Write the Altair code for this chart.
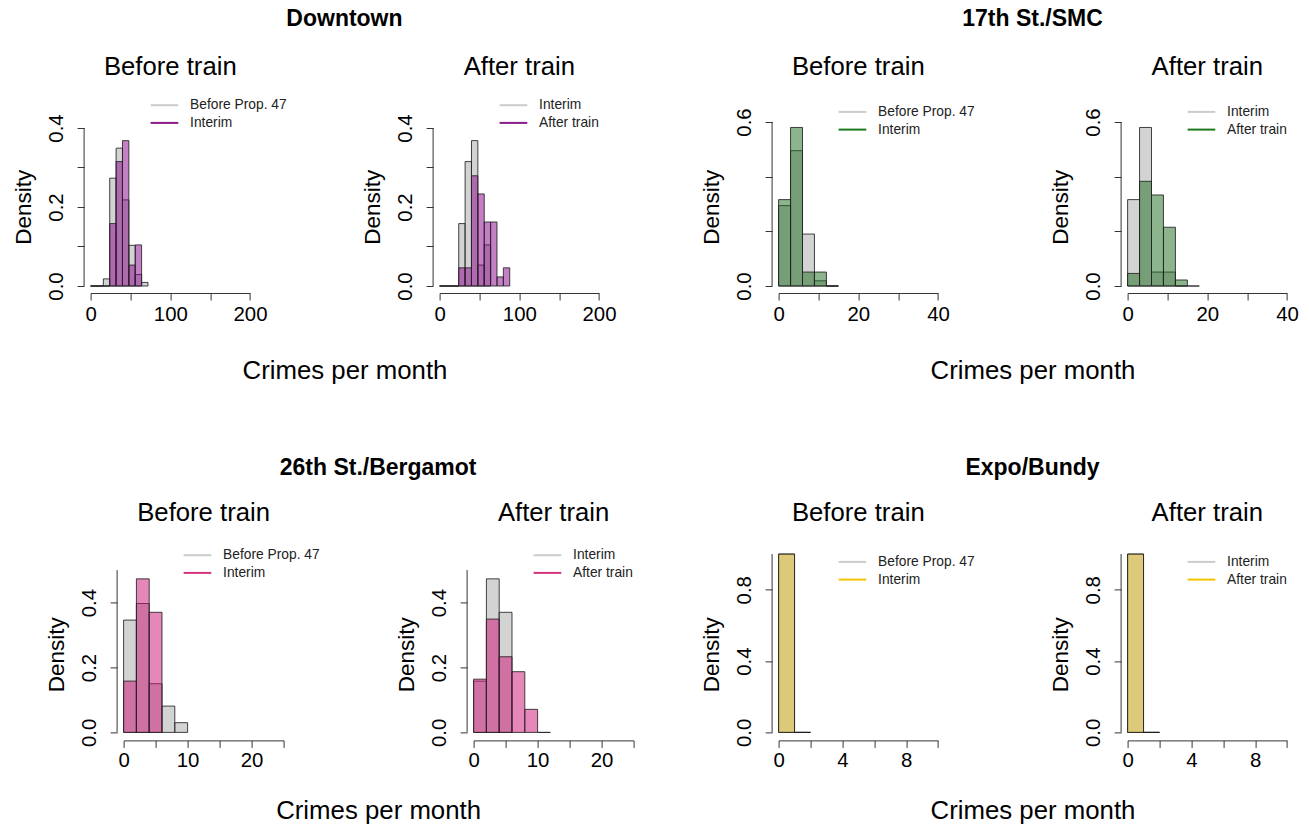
import json
import altair as alt
import pandas as pd

FONT = "Liberation Sans"

# ---------------- data ----------------
STATIONS = ["Downtown", "17th St./SMC", "26th St./Bergamot", "Expo/Bundy"]
PERIODS = ["Before train", "After train"]
SERIES = [["Before Prop. 47", "Interim"], ["Interim", "After train"]]
X_TITLE = "Crimes per month"
Y_TITLE = "Density"

BIN_WIDTH = [8, 3, 2, 1]

DOWNTOWN_BEFORE_PROP47 = [0, 0, 0.018, 0.273, 0.349, 0.218, 0.103, 0.029, 0.009]
DOWNTOWN_INTERIM = [0, 0, 0, 0.158, 0.315, 0.368, 0.053, 0.104]
DOWNTOWN_AFTER = [0, 0, 0, 0.046, 0.046, 0.279, 0.233, 0.162, 0.162, 0.023, 0.046]

SMC_BEFORE_PROP47 = [0.294, 0.495, 0.190, 0.019, 0]
SMC_INTERIM = [0.316, 0.580, 0.051, 0.051, 0]
SMC_AFTER = [0.046, 0.383, 0.333, 0.215, 0.022, 0]

BERGAMOT_BEFORE_PROP47 = [0.346, 0.397, 0.150, 0.081, 0.030]
BERGAMOT_INTERIM = [0.158, 0.473, 0.370]
BERGAMOT_AFTER = [0.164, 0.349, 0.233, 0.187, 0.071, 0]

EXPO_BEFORE_PROP47 = [1.0, 0]
EXPO_INTERIM = [1.0, 0]
EXPO_AFTER = [1.0, 0]

DENS = [
    [(DOWNTOWN_BEFORE_PROP47, DOWNTOWN_INTERIM), (DOWNTOWN_INTERIM, DOWNTOWN_AFTER)],
    [(SMC_BEFORE_PROP47, SMC_INTERIM), (SMC_INTERIM, SMC_AFTER)],
    [(BERGAMOT_BEFORE_PROP47, BERGAMOT_INTERIM), (BERGAMOT_INTERIM, BERGAMOT_AFTER)],
    [(EXPO_BEFORE_PROP47, EXPO_INTERIM), (EXPO_INTERIM, EXPO_AFTER)],
]

X_TICKS = [[0, 50, 100, 150, 200], [0, 10, 20, 30, 40], [0, 5, 10, 15, 20, 25], [0, 2, 4, 6, 8, 10]]
X_TICK_LABELS = [[0, 100, 200], [0, 20, 40], [0, 10, 20], [0, 4, 8]]
Y_TICKS = [[0, 0.1, 0.2, 0.3, 0.4], [0, 0.1, 0.2, 0.3, 0.4, 0.5, 0.6],
           [0, 0.1, 0.2, 0.3, 0.4, 0.5], [0, 0.2, 0.4, 0.6, 0.8, 1.0]]
Y_TICK_LABELS = [["0.0", "0.2", "0.4"], ["0.0", "0.3", "0.6"], ["0.0", "0.2", "0.4"], ["0.0", "0.4", "0.8"]]

# ---------------- style / layout ----------------
GREY_FILL = "#A8A8A8"
GREY_LINE = "#CCCCCC"
STATION_FILL = ["#8B008B", "#1C6B1C", "#CD1076", "#E7BF21"]
STATION_LINE = ["#8B1A89", "#1E7A1E", "#D6337F", "#F5C400"]
EDGE = "#222222"
AXC = "#333333"

LEG_X0, LEG_X1, LEG_TX, LEG_ROW = 60, 87.7, 99.5, 17.7
Y_AXIS_OFFSET = 6.5

# per station: plot size, top of the plotting region (data units), offsets relative to the plot
LAYOUT = [
    dict(w=159.4, h=168, ytop=0.4253, gap=188.9, xoff=7, xpad=14.6, xty=77.4, legy=-12.8,
         st_y=-98.6, pt_y=-50.6, dy=88.7),
    dict(w=159.4, h=168, ytop=0.6146, gap=189, xoff=7, xpad=14.6, xty=77.4, legy=-6.1,
         st_y=-98.6, pt_y=-50.6, dy=88.7),
    dict(w=160, h=180, ytop=0.5545, gap=189, xoff=8, xpad=13, xty=70, legy=2.8,
         st_y=-84, pt_y=-39, dy=101.8),
    dict(w=159.4, h=180, ytop=1.0095, gap=189, xoff=8, xpad=13, xty=70, legy=9.5,
         st_y=-84, pt_y=-39, dy=101.8),
]
# grid column widths (both rows share them); the panels draw past their cell where needed
COLS = [78.1, 32.6, 315.7, 33.3, 305, 348.4, 159.4]
ROW_SPACING = 266.4


def panel(i, j, cell_w):
    L = LAYOUT[i]
    grey_name, col_name = SERIES[j]
    grey_vals, col_vals = DENS[i][j]
    bw = BIN_WIDTH[i]
    rows = []
    for name, vals in ((grey_name, grey_vals), (col_name, col_vals)):
        for k, v in enumerate(vals):
            rows.append({"series": name, "start": k * bw, "end": (k + 1) * bw, "density": v})
    df = pd.DataFrame(rows)

    xa = dict(values=X_TICKS[i], format="d",
              labelExpr="indexof(%s, datum.value) >= 0 ? datum.label : ''" % json.dumps(X_TICK_LABELS[i]),
              tickSize=7, offset=L["xoff"], labelPadding=L["xpad"], labelFontSize=20.4, labelFont=FONT,
              labelColor="#000", labelBaseline="middle", labelFlush=False, labelOverlap=False,
              domainColor=AXC, tickColor=AXC, grid=False)
    if j == 0:
        xa.update(title=X_TITLE, titleFontSize=25.8, titleFont=FONT, titleFontWeight="normal",
                  titleColor="#000", titleX=L["w"] + L["gap"] / 2, titleY=L["xty"],
                  titleAlign="center", titleBaseline="middle")
    else:
        xa.update(title=None)
    ya = dict(values=Y_TICKS[i], format=".1f",
              labelExpr="indexof(%s, datum.label) >= 0 ? datum.label : ''" % json.dumps(Y_TICK_LABELS[i]),
              tickSize=7, offset=Y_AXIS_OFFSET, labelPadding=10.9, labelFontSize=20.4, labelFont=FONT,
              labelColor="#000", labelAngle=270, labelAlign="center", labelBaseline="bottom",
              labelOverlap=False, labelFlush=False, domain=False, tickColor=AXC, grid=False,
              title=Y_TITLE, titleFontSize=22.5, titleFont=FONT, titleFontWeight="normal", titleColor="#000",
              titleAngle=270, titleX=-48.6, titleY=L["dy"], titleAlign="center", titleBaseline="bottom")

    xscale = alt.Scale(domain=[X_TICKS[i][0], X_TICKS[i][-1]], range=[0, L["w"]], nice=False, zero=False)
    yscale = alt.Scale(domain=[0, L["ytop"]], nice=False)

    bars = alt.Chart(df).mark_bar(stroke=EDGE, strokeWidth=1, strokeOpacity=0.85, fillOpacity=0.5).encode(
        x=alt.X("start:Q", scale=xscale, axis=alt.Axis(**xa)),
        x2="end:Q",
        y=alt.Y("density:Q", scale=yscale, axis=alt.Axis(**ya), stack=None),
        y2=alt.datum(0),
        fill=alt.Fill("series:N", scale=alt.Scale(domain=[grey_name, col_name],
                                                  range=[GREY_FILL, STATION_FILL[i]]), legend=None),
    )

    # y axis line spanning only the ticked range (as R draws it)
    axis_line = alt.Chart(pd.DataFrame({"a": [0]})).mark_rule(color=AXC, strokeWidth=1).encode(
        x=alt.value(-Y_AXIS_OFFSET), y=alt.datum(Y_TICKS[i][0]), y2=alt.datum(Y_TICKS[i][-1]))

    # legend (line + label per series)
    leg_df = pd.DataFrame({"series": [grey_name, col_name], "row": [0, 1]})
    leg_base = alt.Chart(leg_df).transform_calculate(
        ypix="%s + datum.row * %s" % (L["legy"], LEG_ROW))
    leg_lines = leg_base.mark_rule(strokeWidth=2).encode(
        x=alt.value(LEG_X0), x2=alt.value(LEG_X1),
        y=alt.Y("ypix:Q", scale=None, axis=None),
        stroke=alt.Stroke("series:N", scale=alt.Scale(domain=[grey_name, col_name],
                                                      range=[GREY_LINE, STATION_LINE[i]]), legend=None),
    )
    leg_text = leg_base.mark_text(align="left", baseline="middle", fontSize=13.8, font=FONT,
                                  color="#222").encode(
        x=alt.value(LEG_TX), y=alt.Y("ypix:Q", scale=None, axis=None), text="series:N")

    # panel title
    ptitle = alt.Chart(pd.DataFrame({"t": [PERIODS[j]]})).mark_text(
        align="center", baseline="middle", fontSize=25.7, font=FONT, color="#000").encode(
        x=alt.value(L["w"] / 2), y=alt.value(L["pt_y"]), text="t:N")

    layers = [bars, axis_line, leg_lines, leg_text, ptitle]
    if j == 0:
        stitle = alt.Chart(pd.DataFrame({"t": [STATIONS[i]]})).mark_text(
            align="center", baseline="middle", fontSize=23, fontWeight="bold", font=FONT,
            color="#000").encode(x=alt.value(L["w"] + L["gap"] / 2), y=alt.value(L["st_y"]), text="t:N")
        layers.append(stitle)

    return alt.layer(*layers).properties(width=cell_w, height=L["h"])


def spacer(width, height):
    return alt.Chart(pd.DataFrame({"a": [0]})).mark_point(size=0, opacity=0, strokeWidth=0).encode(
        x=alt.value(0), y=alt.value(0)).properties(width=width, height=height)


H1 = LAYOUT[0]["h"]
H2 = LAYOUT[2]["h"]
row1 = [spacer(COLS[0], H1), panel(0, 0, COLS[1]), spacer(COLS[2], H1), panel(0, 1, COLS[3]),
        spacer(COLS[4], H1), panel(1, 0, COLS[5]), panel(1, 1, COLS[6])]
row2 = [spacer(COLS[0], H2), spacer(COLS[1], H2), panel(2, 0, COLS[2]), spacer(COLS[3], H2),
        panel(2, 1, COLS[4]), panel(3, 0, COLS[5]), panel(3, 1, COLS[6])]

chart = alt.concat(
    *row1, *row2, columns=7, spacing={"row": ROW_SPACING, "column": 0}, bounds="flush"
).resolve_scale(
    x="independent", y="independent", fill="independent", stroke="independent"
).properties(
    padding={"left": 3.6, "top": 0, "right": 0, "bottom": 0}
).configure(font=FONT).configure_view(stroke=None)

chart.save("out.html", embed_options={"renderer": "svg", "actions": False})
